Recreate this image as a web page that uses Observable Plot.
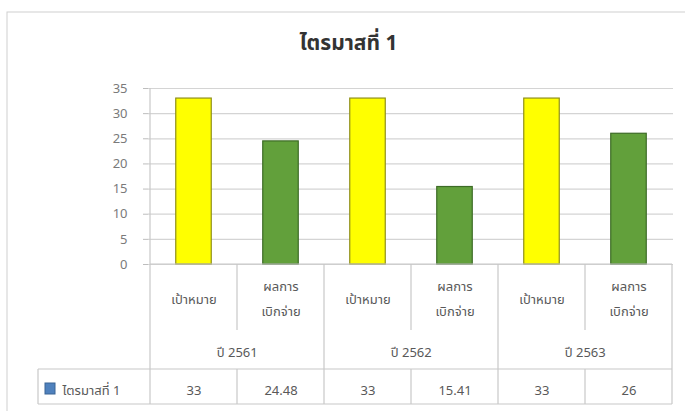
<!DOCTYPE html>
<html>
<head>
<meta charset="utf-8">
<script src="https://cdn.jsdelivr.net/npm/d3@7"></script>
<script src="https://cdn.jsdelivr.net/npm/@observablehq/plot@0.6"></script>
<style>
  html, body { margin: 0; padding: 0; background: #fff; }
  #chart svg { display: block; }
</style>
</head>
<body>
<div id="chart"></div>
<script>
// ---- data ----
const title = "ไตรมาสที่ 1";
const seriesName = "ไตรมาสที่ 1";
const years = ["ปี 2561", "ปี 2562", "ปี 2563"];
const types = ["เป้าหมาย", "ผลการ\nเบิกจ่าย"];
const targetValues = [33, 33, 33];
const actualValues = [24.48, 15.41, 26];
const yTicks = [0, 5, 10, 15, 20, 25, 30, 35];
const typeColors = ["#ffff00", "#62a03b"];
const typeStrokes = ["#8f8f1a", "#3d6b26"];

// ---- build table ----
const rows = [];
years.forEach((yr, i) => {
  [targetValues[i], actualValues[i]].forEach((v, j) => {
    rows.push({key: yr + "|" + j, year: yr, type: j, label: types[j], value: v, first: j === 0});
  });
});
const keys = rows.map(d => d.key);

const W = 685, H = 411;
const mL = 148, mR = 12, mT = 88, mB = 147;
const step = (W - mL - mR) / keys.length;
const barW = 36;
const ins = (step - barW) / 2;
const font = "'Noto Sans Thai', Tahoma, 'Noto Sans', 'DejaVu Sans', sans-serif";
const gray = "#595959";

const plot = Plot.plot({
  width: W, height: H,
  marginLeft: mL, marginRight: mR, marginTop: mT, marginBottom: mB,
  style: {fontFamily: font, background: "#fff", overflow: "visible"},
  x: {domain: keys, padding: 0, axis: null},
  y: {domain: [0, 35], axis: null},
  marks: [
    Plot.ruleY(yTicks, {stroke: "#d4d4d4", strokeWidth: 1.2}),
    Plot.axisY({ticks: yTicks, label: null, tickSize: 5, tickPadding: 16, fontSize: 13, fill: "#7a7a7a", stroke: "#bdbdbd"}),
    Plot.barY(rows, {
      x: "key", y: "value",
      fill: d => typeColors[d.type], stroke: d => typeStrokes[d.type], strokeWidth: 1.2,
      insetLeft: ins, insetRight: ins
    }),
    // category labels
    Plot.text(rows, {x: "key", y: () => 0, text: "label", dy: 31, fontSize: 13, fill: gray, lineHeight: 1.95}),
    // year labels (centered on group)
    Plot.text(rows.filter(d => !d.first), {x: "key", y: () => 0, text: "year", dx: -step / 2, dy: 88, fontSize: 13, fill: gray}),
    // data table values
    Plot.text(rows, {x: "key", y: () => 0, text: d => String(d.value), dy: 126, fontSize: 13, fill: gray}),
    // legend label in data table
    Plot.text([seriesName], {frameAnchor: "bottom-left", text: d => d, dx: 62 - mL, dy: 126, textAnchor: "start", lineAnchor: "middle", fontSize: 13, fill: gray}),
    // title
    Plot.text([title], {frameAnchor: "top-left", text: d => d, dx: 348 - mL, dy: 43 - mT, textAnchor: "middle", lineAnchor: "middle", fontSize: 21, fontWeight: "bold", fill: "#333"})
  ]
});

// ---- decorations derived from the plot's scales ----
const svg = d3.select(plot);
const xs = plot.scale("x"), ys = plot.scale("y");
const y0 = ys.apply(0), yTop = ys.apply(35);
const bw = xs.bandwidth;
const g = svg.insert("g", ":first-child");
// outer chart frame
g.append("rect").attr("x", 7).attr("y", 12).attr("width", W + 20).attr("height", H + 20)
  .attr("fill", "#fff").attr("stroke", "#d0d0d0");
const lines = svg.append("g").attr("stroke", "#c8c8c8").attr("stroke-width", 1.2).attr("fill", "none");
// vertical axis line
lines.append("line").attr("x1", xs.apply(keys[0])).attr("x2", xs.apply(keys[0])).attr("y1", yTop).attr("y2", y0);
// horizontal base line
lines.append("line").attr("x1", xs.apply(keys[0])).attr("x2", xs.apply(keys[keys.length - 1]) + bw).attr("y1", y0).attr("y2", y0);
// category dividers
rows.forEach((d, i) => {
  const x = xs.apply(d.key);
  const long = d.first;
  lines.append("line").attr("x1", x).attr("x2", x).attr("y1", y0).attr("y2", long ? y0 + 140 : y0 + 66);
});
const xEnd = xs.apply(keys[keys.length - 1]) + bw;
lines.append("line").attr("x1", xEnd).attr("x2", xEnd).attr("y1", y0).attr("y2", y0 + 140);
// data table row
lines.append("line").attr("x1", 38).attr("x2", xEnd).attr("y1", y0 + 105).attr("y2", y0 + 105);
lines.append("line").attr("x1", 38).attr("x2", xEnd).attr("y1", y0 + 140).attr("y2", y0 + 140);
lines.append("line").attr("x1", 38).attr("x2", 38).attr("y1", y0 + 105).attr("y2", y0 + 140);
// inner value dividers in data row
rows.filter(d => !d.first).forEach(d => {
  const x = xs.apply(d.key);
  lines.append("line").attr("x1", x).attr("x2", x).attr("y1", y0 + 105).attr("y2", y0 + 140);
});
// legend key square
svg.append("rect").attr("x", 45).attr("y", y0 + 119).attr("width", 10).attr("height", 11)
  .attr("fill", "#4f81bd").attr("stroke", "#3a6595");

document.getElementById("chart").appendChild(plot);
</script>
</body>
</html>
